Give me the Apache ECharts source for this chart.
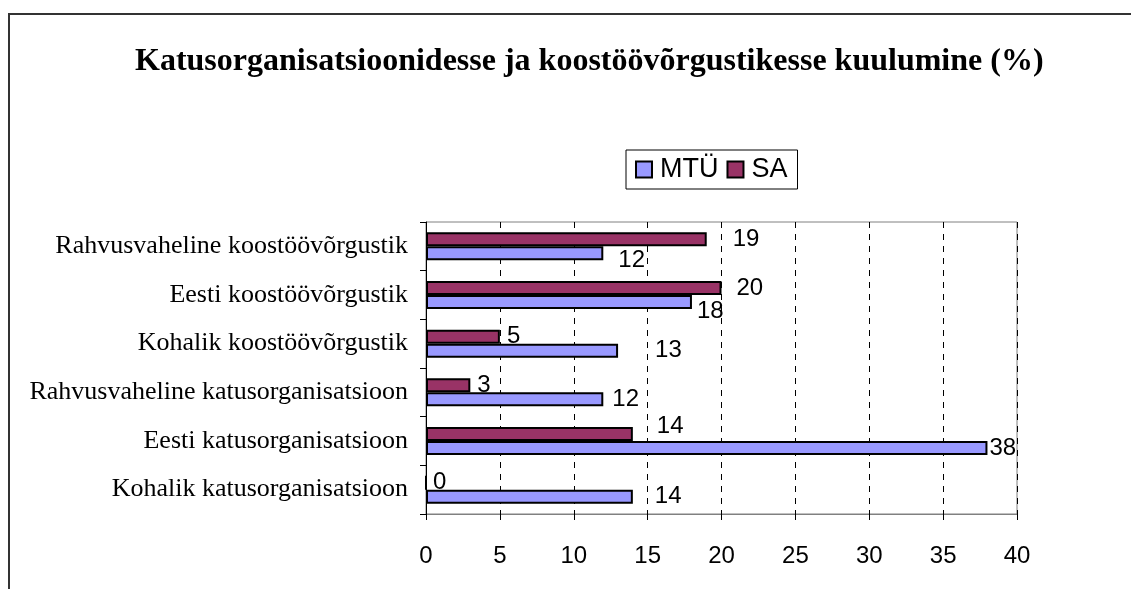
<!DOCTYPE html>
<html>
<head>
<meta charset="utf-8">
<script src="https://cdn.jsdelivr.net/npm/echarts@6/dist/echarts.min.js"></script>
<style>html,body{margin:0;padding:0;background:#fff}#c{width:1131px;height:589px}</style>
</head>
<body>
<div id="c"></div>
<script>
const titleText = 'Katusorganisatsioonidesse ja koostöövõrgustikesse kuulumine (%)';
const categories = [
  'Kohalik katusorganisatsioon',
  'Eesti katusorganisatsioon',
  'Rahvusvaheline katusorganisatsioon',
  'Kohalik koostöövõrgustik',
  'Eesti koostöövõrgustik',
  'Rahvusvaheline koostöövõrgustik'
];
const mtuValues = [14, 38, 12, 13, 18, 12];
const saValues = [0, 14, 3, 5, 20, 19];
const xTicks = [0, 5, 10, 15, 20, 25, 30, 35, 40];

// label nudges (style only), [dx, dy] per category
const mtuLabelShift = [[17,0],[-3,0],[4,0],[32,0],[0,9],[10,7]];
const saLabelShift = [[1,0],[19,-8],[2,0],[2,0],[10,0],[21,0]];

function mk(vals, shifts) {
  return vals.map((v, i) => ({ value: v, label: { offset: shifts[i] } }));
}

const chart = echarts.init(document.getElementById('c'));
chart.setOption({
  animation: false,
  backgroundColor: '#fff',
  title: {
    text: titleText,
    left: 130,
    top: 41,
    textStyle: { fontFamily: 'Liberation Serif', fontWeight: 'bold', fontSize: 32, color: '#000' }
  },
  legend: {
    data: ['MTÜ', 'SA'],
    left: 626,
    top: 150,
    padding: [6, 10, 6, 9],
    borderColor: '#000',
    borderWidth: 1,
    itemWidth: 16,
    itemHeight: 16,
    itemGap: 8,
    icon: 'rect',
    itemStyle: { borderColor: '#000', borderWidth: 2 },
    textStyle: { fontFamily: 'Liberation Sans', fontSize: 27, color: '#000', padding: [0, 0, 0, 3] }
  },
  grid: { left: 426, right: 114, top: 222, bottom: 75, show: true, borderColor: '#808080', borderWidth: 1 },
  xAxis: {
    type: 'value',
    min: 0, max: 40, interval: 5,
    axisLine: { show: true, lineStyle: { color: '#808080' } },
    axisTick: { show: true, inside: false, length: 6, lineStyle: { color: '#000' } },
    axisLabel: { fontFamily: 'Liberation Sans', fontSize: 24, color: '#000', margin: 30,
      formatter: v => String(xTicks[xTicks.indexOf(v)]) },
    splitLine: { show: true, lineStyle: { color: '#000', type: [6, 6], width: 1 } }
  },
  yAxis: {
    type: 'category',
    data: categories,
    axisLine: { show: true, lineStyle: { color: '#000', width: 1 } },
    axisTick: { show: true, length: 6, lineStyle: { color: '#000' } },
    axisLabel: { fontFamily: 'Liberation Serif', fontSize: 26, color: '#000', margin: 18 }
  },
  series: [
    {
      name: 'SA', type: 'bar', data: mk(saValues, saLabelShift),
      barWidth: 14, barGap: '0%',
      itemStyle: { color: '#993366', borderColor: '#000', borderWidth: 2 },
      label: { show: true, position: 'right', distance: 5, fontFamily: 'Liberation Sans', fontSize: 24, color: '#000' }
    },
    {
      name: 'MTÜ', type: 'bar', data: mk(mtuValues, mtuLabelShift),
      barWidth: 14, barGap: '0%',
      itemStyle: { color: '#9999FF', borderColor: '#000', borderWidth: 2 },
      label: { show: true, position: 'right', distance: 5, fontFamily: 'Liberation Sans', fontSize: 24, color: '#000' }
    }
  ],
  graphic: [{
    type: 'rect', silent: true, z: -1,
    shape: { x: 9, y: 14, width: 1400, height: 800 },
    style: { fill: 'none', stroke: '#333', lineWidth: 2 }
  }]
});
</script>
</body>
</html>
